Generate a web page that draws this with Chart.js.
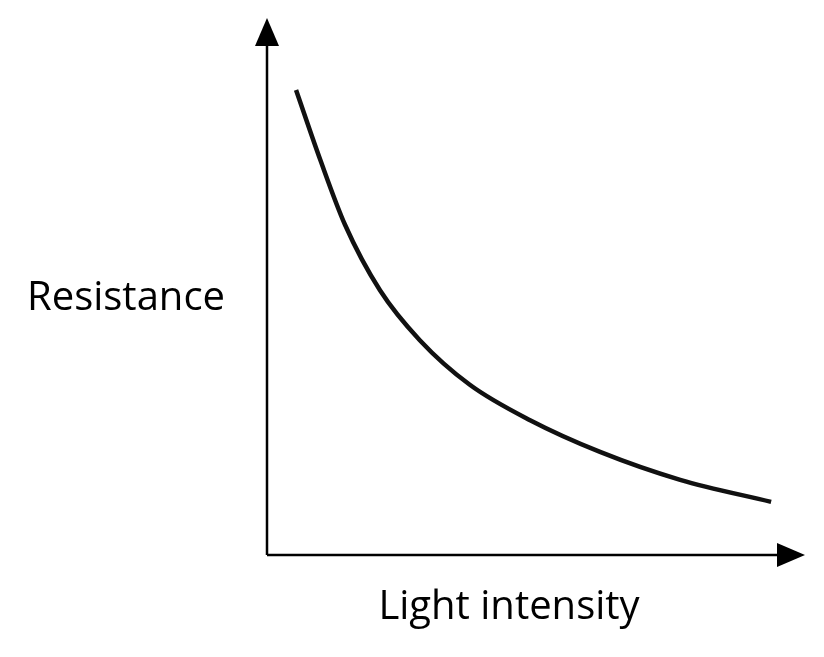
<!DOCTYPE html>
<html><head><meta charset="utf-8">
<script src="https://cdn.jsdelivr.net/npm/chart.js@4/dist/chart.umd.min.js"></script>
<style>html,body{margin:0;padding:0;background:#fff}#w{width:824px;height:657px}</style>
</head><body><div id="w"><canvas id="c"></canvas></div>
<script>
const xValues = [5.4, 9.9, 14.5, 21.0, 28.4, 37.7, 48.9, 61.9, 76.8, 93.7];
const resistance = [86.6, 73.6, 61.5, 49.3, 40.0, 31.7, 25.1, 19.2, 14.0, 9.9];
const xTitle = "Light intensity";
const yTitle = "Resistance";

const axesPlugin = {
  id: 'axes',
  beforeDatasetsDraw(chart) {
    const {ctx, chartArea: a} = chart;
    ctx.save();
    ctx.strokeStyle = '#000'; ctx.fillStyle = '#000'; ctx.lineWidth = 2.5;
    ctx.beginPath(); ctx.moveTo(a.left, a.bottom); ctx.lineTo(a.left, a.top + 20);
    ctx.moveTo(a.left, a.bottom); ctx.lineTo(a.right - 22, a.bottom); ctx.stroke();
    ctx.beginPath(); ctx.moveTo(a.left, a.top); ctx.lineTo(a.left - 12, a.top + 28); ctx.lineTo(a.left + 12, a.top + 28); ctx.closePath(); ctx.fill();
    ctx.beginPath(); ctx.moveTo(a.right, a.bottom); ctx.lineTo(a.right - 28, a.bottom - 12); ctx.lineTo(a.right - 28, a.bottom + 12); ctx.closePath(); ctx.fill();
    ctx.font = '40px "Open Sans", sans-serif';
    ctx.textBaseline = 'middle';
    ctx.textAlign = 'center';
    ctx.fillText(yTitle, 126, 299);
    ctx.fillText(xTitle, 509, 608);
    ctx.restore();
  }
};

new Chart(document.getElementById('c'), {
  type: 'line',
  data: { datasets: [{ data: xValues.map((x, i) => ({x, y: resistance[i]})), borderColor: '#111', borderWidth: 4.5, pointRadius: 0, tension: 0.4, cubicInterpolationMode: 'monotone', fill: false }] },
  options: {
    responsive: true, maintainAspectRatio: false, animation: false,
    layout: { padding: { left: 267, top: 18, right: 19, bottom: 102 } },
    plugins: { legend: { display: false }, tooltip: { enabled: false } },
    scales: {
      x: { type: 'linear', min: 0, max: 100, display: false },
      y: { min: 0, max: 100, display: false }
    }
  },
  plugins: [axesPlugin]
});
</script></body></html>
